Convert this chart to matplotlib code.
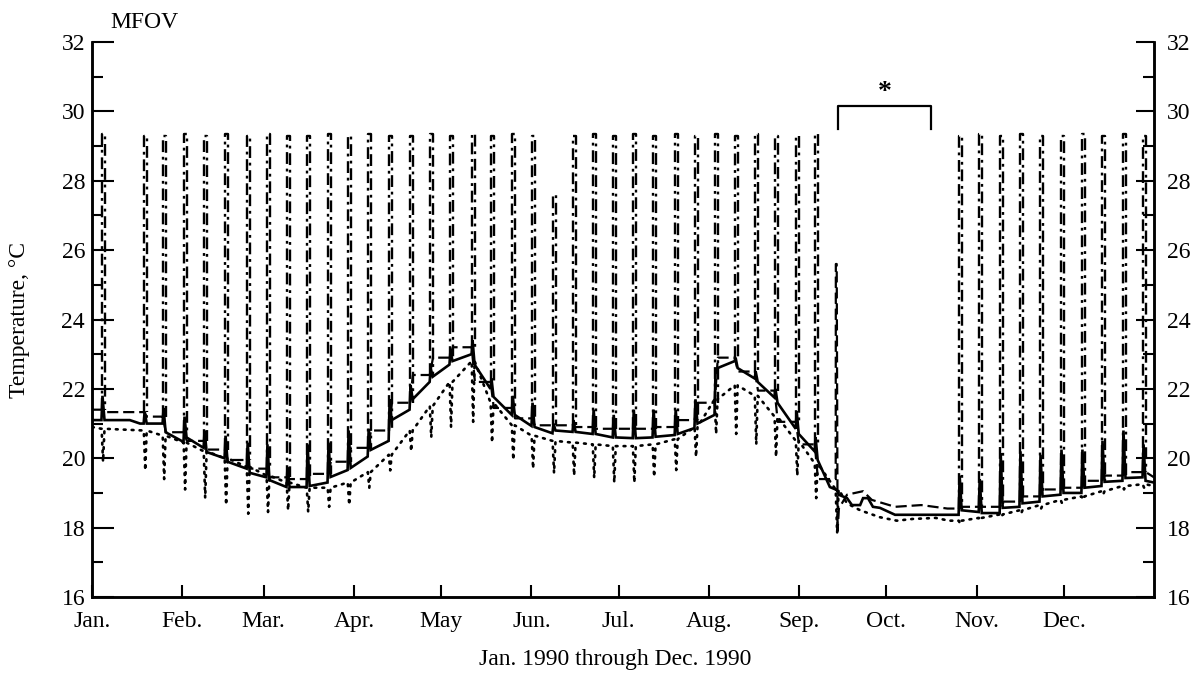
import matplotlib
matplotlib.use("Agg")
import matplotlib.pyplot as plt
import numpy as np

plt.rcParams['font.family'] = ['Liberation Serif', 'DejaVu Serif']

# ---------------- data ----------------
month_start = [0, 31, 59, 90, 120, 151, 181, 212, 243, 273, 304, 334]
month_labels = ["Jan.", "Feb.", "Mar.", "Apr.", "May", "Jun.", "Jul.",
                "Aug.", "Sep.", "Oct.", "Nov.", "Dec."]

# weekly event days (day of year)
week_day = [3.4, 17.9, 24.4, 31.6, 38.5, 45.7, 53.3, 60.1, 67.0, 73.9, 81.1,
            88.0, 94.9, 102.1, 109.3, 116.2, 123.0, 130.6, 137.1, 144.4,
            151.2, 158.4, 165.3, 172.2, 179.1, 186.0, 192.8, 200.4, 207.2,
            214.1, 221.0, 227.9, 234.7, 242.0, 248.5, 255.7, 298.0, 304.9,
            312.1, 318.9, 325.8, 333.0, 340.2, 347.1, 354.3, 361.2]

# dash-dot excursions: top value of each weekly spike (nan = none)
spike_top = [29.35, 29.3, 29.3, 29.35, 29.3, 29.35, 29.3, 29.35, 29.3, 29.3,
             29.35, 29.3, 29.35, 29.3, 29.3, 29.35, 29.3, 29.35, 29.3, 29.35,
             29.3, 27.6, 29.3, 29.35, 29.3, 29.35, 29.3, 29.35, 29.3, 29.35,
             29.3, 29.35, 29.3, 29.3, 29.35, np.nan, 29.3, 29.35, 29.3, 29.35,
             29.3, 29.3, 29.35, 29.3, 29.35, 29.3]

# solid line: level before each weekly event, peak, level after
solid_before = [21.1, 21.0, 21.0, 20.47, 20.3, 20.0, 19.7, 19.45, 19.17, 19.17,
                19.3, 19.66, 20.05, 20.5, 21.4, 22.2, 22.7, 23.0, 22.0, 21.25,
                20.93, 20.72, 20.76, 20.7, 20.6, 20.58, 20.6, 20.67, 20.87,
                21.25, 22.8, 22.3, 21.75, 20.85, 20.2, 19.1, 18.37, 18.45,
                18.42, 18.6, 18.75, 18.95, 19.0, 19.2, 19.35, 19.45]
solid_peak = [21.8, 21.35, 21.45, 21.2, 20.8, 20.65, 20.45, 20.4, 19.75, 20.4,
              20.45, 20.8, 20.85, 21.7, 22.1, 22.6, 23.1, 23.4, 22.3, 21.8,
              21.6, 21.0, 21.1, 21.4, 21.25, 21.4, 21.4, 21.4, 21.7, 22.5,
              22.9, 22.5, 22.0, 21.35, 20.6, 19.1, 19.5, 19.4, 20.15, 20.2,
              20.1, 20.25, 20.25, 20.5, 20.8, 20.4]
solid_after = [21.1, 21.0, 20.75, 20.6, 20.18, 19.9, 19.58, 19.37, 19.17, 19.2,
               19.46, 19.72, 20.24, 21.1, 21.7, 22.35, 22.8, 22.7, 21.77,
               21.25, 20.9, 20.8, 20.76, 20.7, 20.6, 20.58, 20.62, 20.7, 21.0,
               22.6, 22.6, 22.2, 21.6, 20.7, 19.95, 18.95, 18.5, 18.42, 18.57,
               18.7, 18.9, 19.0, 19.15, 19.32, 19.43, 19.35]
solid_knot_day = [0.0, 13.0, 16.5, 253.6, 259.5, 261.2, 264.0, 265.0, 266.7,
                  268.4, 270.8, 276.0, 294.2, 365.0]
solid_knot_val = [21.1, 21.1, 21.0, 19.17, 18.85, 18.65, 18.65, 18.85, 18.85,
                  18.6, 18.57, 18.37, 18.37, 19.3]

# dashed line: level at each weekly event
dash_level = [21.4, 21.33, 21.2, 20.75, 20.5, 20.25, 19.95, 19.7, 19.45, 19.4,
              19.55, 19.9, 20.3, 20.8, 21.6, 22.4, 22.9, 23.2, 22.2, 21.45,
              21.15, 20.95, 20.95, 20.9, 20.85, 20.85, 20.85, 20.9, 21.1, 21.6,
              22.9, 22.5, 21.95, 21.05, 20.4, 19.4, 18.55, 18.6, 18.6, 18.75,
              18.9, 19.1, 19.15, 19.35, 19.5, 19.6]
dash_knot_day = [0.0, 259.5, 265.0, 268.0, 276.0, 285.0, 294.0, 365.0]
dash_knot_val = [21.4, 18.95, 19.05, 18.8, 18.6, 18.65, 18.55, 19.45]
dash_spike_day = [255.7]
dash_spike_top = [25.6]
dash_spike_low = [17.9]

# dotted line: level at each weekly event and the low value of its dip
dot_level = [20.85, 20.8, 20.65, 20.45, 20.2, 20.0, 19.75, 19.5, 19.3, 19.15,
             19.15, 19.3, 19.6, 20.1, 20.8, 21.5, 22.2, 22.8, 21.6, 20.95,
             20.65, 20.5, 20.45, 20.4, 20.35, 20.35, 20.4, 20.55, 20.9, 21.7,
             22.1, 21.8, 21.2, 20.5, 19.85, 19.1, 18.2, 18.28, 18.38, 18.5,
             18.65, 18.8, 18.9, 19.05, 19.2, 19.25]
dot_dip = [19.9, 19.65, 19.4, 19.1, 18.85, 18.65, 18.4, 18.45, 18.5, 18.45,
           18.6, 18.65, 19.15, 19.65, 20.2, 20.6, 20.9, 21.05, 20.45, 19.95,
           19.7, 19.57, 19.5, 19.43, 19.3, 19.3, 19.46, 19.66, 20.04, 20.7,
           20.7, 20.4, 20.04, 19.5, 18.85, 17.85, 18.1, 18.2, 18.3, 18.4,
           18.55, 18.7, 18.8, 18.95, 19.1, 19.15]
dot_knot_day = [0.0, 259.5, 264.0, 270.8, 276.6, 282.0, 290.0, 294.5, 365.0]
dot_knot_val = [20.9, 18.7, 18.5, 18.3, 18.2, 18.25, 18.28, 18.2, 19.2]

# bracket with asterisk (gap in record)
bracket_day = [256.4, 256.4, 288.5, 288.5]
bracket_val = [29.5, 30.15, 30.15, 29.5]

# ---------------- figure ----------------
W, H = 1198, 681
fig = plt.figure(figsize=(W / 100, H / 100), dpi=100)
ax = fig.add_axes([92 / W, 1 - 597 / H, 1062 / W, 555 / H])

# solid line
sx, sy = list(solid_knot_day), list(solid_knot_val)
for d, b, p, a in zip(week_day, solid_before, solid_peak, solid_after):
    sx += [d - 0.15, d + 0.2, d + 0.9]
    sy += [b, p, a]
o = np.argsort(sx)
ax.plot(np.array(sx)[o], np.array(sy)[o], color='black', lw=1.9,
        solid_joinstyle='miter', zorder=4)

# dashed line
dx, dy = list(dash_knot_day), list(dash_knot_val)
for i, d in enumerate(week_day):
    nxt = dash_level[i + 1] if i + 1 < len(dash_level) else dash_level[i]
    dx += [d - 0.1, d + 1.0]
    dy += [dash_level[i], nxt]
for d, t, lo in zip(dash_spike_day, dash_spike_top, dash_spike_low):
    dx += [d - 0.05, d + 0.25, d + 0.55]
    dy += [t, t, lo]
o = np.argsort(dx)
ax.plot(np.array(dx)[o], np.array(dy)[o], color='black', lw=1.6,
        linestyle=(0, (5, 2.2)), zorder=3)

# dotted line
px, py = list(dot_knot_day), list(dot_knot_val)
for d, q, r in zip(week_day, dot_level, dot_dip):
    px += [d - 0.1, d + 0.4, d + 0.9]
    py += [q, r, q]
o = np.argsort(px)
ax.plot(np.array(px)[o], np.array(py)[o], color='black', lw=1.9,
        linestyle=(0, (0.7, 2.3)), dash_capstyle='round', zorder=3)

# dash-dot weekly excursions
for d, t, b in zip(week_day, spike_top, dash_level):
    if np.isnan(t):
        continue
    ax.plot([d, d, d + 1.0, d + 1.0], [b, t, t, b], color='black', lw=1.7,
            linestyle=(0, (5, 2.0, 1.2, 2.0)), zorder=2)

# bracket and asterisk
ax.plot(bracket_day, bracket_val, color='black', lw=1.6, clip_on=False)
ax.text(np.mean(bracket_day), bracket_val[1] + 0.02, '*', ha='center',
        va='bottom', fontsize=20, fontweight='bold')

# axes styling
ax.set_xlim(0, 365)
ax.set_ylim(16, 32)
ax.spines['top'].set_visible(False)
for s in ax.spines.values():
    s.set_linewidth(1.8)

ax.set_xticks(month_start, labels=month_labels)
ax.tick_params(axis='x', direction='in', length=9, width=1.5,
               labelsize=17, pad=10)
ax.set_yticks(np.arange(16, 33, 2))
ax.set_yticks(np.arange(17, 32, 2), minor=True)
ax.tick_params(axis='y', which='major', direction='in', length=16, width=1.5,
               labelsize=17, pad=5, right=False)
ax.tick_params(axis='y', which='minor', direction='in', length=8, width=1.5,
               right=False)

ax2 = ax.twinx()
ax2.set_ylim(16, 32)
ax2.set_yticks(np.arange(16, 33, 2))
ax2.set_yticks(np.arange(17, 32, 2), minor=True)
ax2.tick_params(axis='y', which='major', direction='in', length=13, width=1.5,
                labelsize=17, pad=9)
ax2.tick_params(axis='y', which='minor', direction='in', length=8, width=1.5)
ax2.spines['top'].set_visible(False)
for s in ax2.spines.values():
    s.set_linewidth(1.8)

ax.set_xlabel("Jan. 1990 through Dec. 1990", fontsize=17)
ax.xaxis.label.set_va('center')
ax.xaxis.set_label_coords((615 - 92) / 1062, (597 - 660) / 555)
ax.set_ylabel("Temperature, °C", fontsize=17)
ax.yaxis.label.set_va('center')
ax.yaxis.set_label_coords((20 - 92) / 1062, 0.5)

fig.text(110 / W, 1 - 22 / H, "MFOV", ha='left', va='center', fontsize=17)

fig.savefig("out.png", dpi=100)
